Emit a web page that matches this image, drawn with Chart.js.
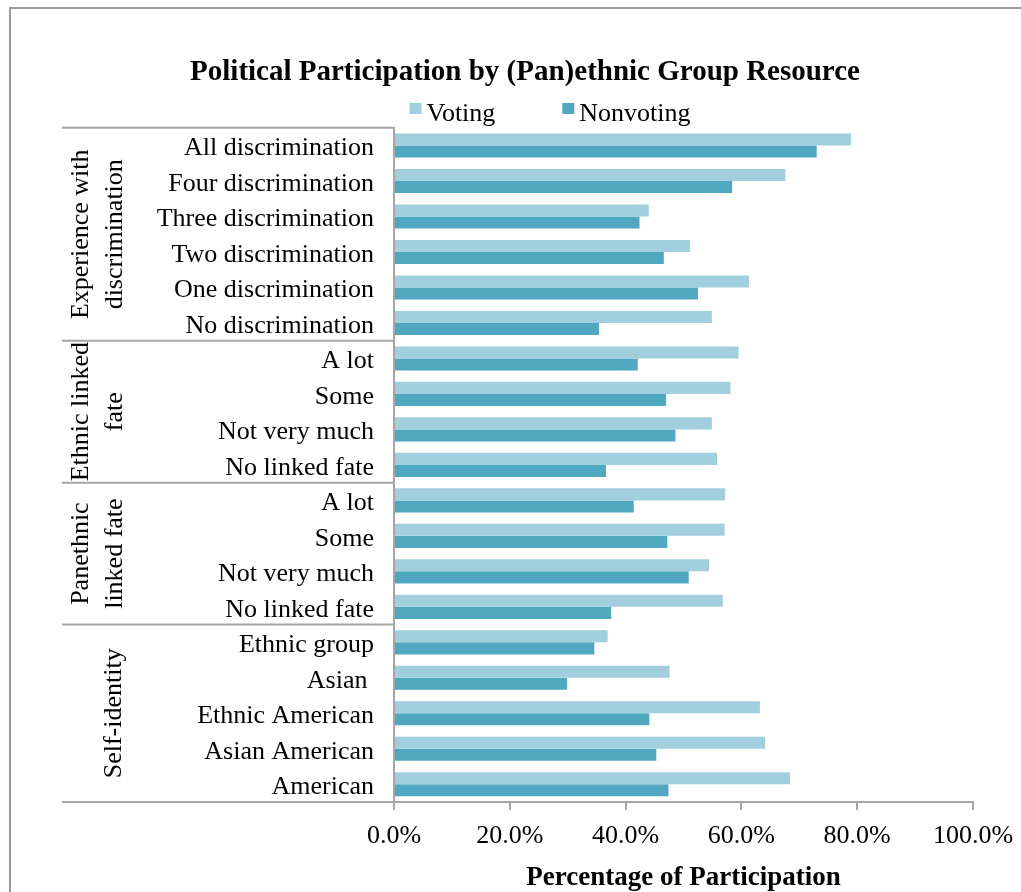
<!DOCTYPE html>
<html>
<head>
<meta charset="utf-8">
<title>Political Participation by (Pan)ethnic Group Resource</title>
<script src="https://cdn.jsdelivr.net/npm/chart.js@4.4.1/dist/chart.umd.min.js"></script>
<style>
  html, body { margin: 0; padding: 0; background: #ffffff; }
  #wrap { width: 1021px; height: 892px; position: relative; }
  canvas { display: block; }
</style>
</head>
<body>
<div id="wrap"><canvas id="chart" width="1021" height="892"></canvas></div>
<script>
// Row labels, top to bottom
const categories = [
  "All discrimination", "Four discrimination", "Three discrimination",
  "Two discrimination", "One discrimination", "No discrimination",
  "A lot", "Some", "Not very much", "No linked fate",
  "A lot", "Some", "Not very much", "No linked fate",
  "Ethnic group", "Asian ", "Ethnic American", "Asian American", "American"
];

// Percent participating, per row
const voting = [
  78.9, 67.6, 44.0, 51.1, 61.3, 54.9,
  59.5, 58.1, 54.9, 55.8,
  57.2, 57.1, 54.4, 56.8,
  36.9, 47.6, 63.2, 64.1, 68.4
];
const nonvoting = [
  73.0, 58.4, 42.4, 46.6, 52.5, 35.4,
  42.1, 47.0, 48.6, 36.6,
  41.4, 47.2, 50.9, 37.5,
  34.6, 29.9, 44.1, 45.3, 47.4
];

// Row groups: label lines and how many rows each covers
const groupLabels = [
  ["Experience with", "discrimination"],
  ["Ethnic linked", "fate"],
  ["Panethnic", "linked fate"],
  ["Self-identity"]
];
const groupSizes = [6, 4, 4, 5];

// Value axis ticks
const xTickValues = [0, 20, 40, 60, 80, 100];

const SERIF = '"Liberation Serif", "Times New Roman", Times, serif';
const GRID = '#a6a6a6';

// Outer frame of the chart object
const framePlugin = {
  id: 'frame',
  beforeDraw(chart) {
    const ctx = chart.ctx;
    ctx.save();
    ctx.fillStyle = '#ffffff';
    ctx.fillRect(0, 0, chart.width, chart.height);
    ctx.strokeStyle = '#9a9a9a';
    ctx.lineWidth = 2;
    ctx.beginPath();
    ctx.moveTo(10, chart.height + 5);
    ctx.lineTo(10, 8);
    ctx.lineTo(chart.width + 5, 8);
    ctx.stroke();
    ctx.restore();
  }
};

// Group labels and separator lines left of the category axis
const groupPlugin = {
  id: 'groups',
  afterDraw(chart, args, opts) {
    const ctx = chart.ctx;
    const y = chart.scales.y;
    const area = chart.chartArea;
    const half = (y.getPixelForValue(1) - y.getPixelForValue(0)) / 2;
    ctx.save();
    ctx.strokeStyle = GRID;
    ctx.lineWidth = 2;
    let start = 0;
    const bounds = [y.getPixelForValue(0) - half];
    groupSizes.forEach(n => {
      start += n;
      bounds.push(y.getPixelForValue(start - 1) + half);
    });
    bounds.forEach(b => {
      ctx.beginPath();
      ctx.moveTo(opts.lineLeft, b);
      ctx.lineTo(area.left, b);
      ctx.stroke();
    });
    ctx.fillStyle = '#000000';
    ctx.font = opts.font;
    ctx.textAlign = 'center';
    ctx.textBaseline = 'middle';
    groupLabels.forEach((lines, g) => {
      const cy = (bounds[g] + bounds[g + 1]) / 2;
      const xs = lines.length === 2 ? opts.twoLineX : opts.oneLineX;
      lines.forEach((txt, i) => {
        ctx.save();
        ctx.translate(xs[i], cy);
        ctx.rotate(-Math.PI / 2);
        ctx.fillText(txt, 0, 0);
        ctx.restore();
      });
    });
    ctx.restore();
  }
};

// Legend row under the title
const legendPlugin = {
  id: 'legendRow',
  afterDraw(chart, args, opts) {
    const ctx = chart.ctx;
    ctx.save();
    ctx.font = opts.font;
    ctx.textBaseline = 'middle';
    ctx.textAlign = 'left';
    const items = chart.data.datasets.map(d => ({
      text: d.label, color: d.backgroundColor, w: ctx.measureText(d.label).width
    }));
    const itemW = it => opts.box + opts.textGap + it.w;
    let total = items.reduce((s, it) => s + itemW(it), 0) + opts.itemGap * (items.length - 1);
    let x = opts.centerX - total / 2;
    items.forEach(it => {
      ctx.fillStyle = it.color;
      ctx.fillRect(x, opts.boxTop, opts.box, opts.boxH);
      ctx.fillStyle = '#000000';
      ctx.fillText(it.text, x + opts.box + opts.textGap, opts.y);
      x += itemW(it) + opts.itemGap;
    });
    ctx.restore();
  }
};

new Chart(document.getElementById('chart'), {
  type: 'bar',
  data: {
    labels: categories,
    datasets: [
      { label: 'Voting', data: voting, backgroundColor: '#a2cfdd', borderWidth: 0 },
      { label: 'Nonvoting', data: nonvoting, backgroundColor: '#4fa8c0', borderWidth: 0 }
    ]
  },
  plugins: [framePlugin, groupPlugin, legendPlugin],
  options: {
    indexAxis: 'y',
    responsive: false,
    animation: false,
    layout: { padding: { left: 77, right: 48, top: 0, bottom: 0 } },
    datasets: { bar: { categoryPercentage: 0.68, barPercentage: 1.0 } },
    scales: {
      x: {
        min: 0, max: 100,
        afterBuildTicks(scale) { scale.ticks = xTickValues.map(v => ({ value: v })); },
        afterFit(scale) {
          scale.height = 90;
          scale.paddingLeft = 0;
          scale.paddingRight = 0;
        },
        grid: { display: true, drawOnChartArea: false, drawTicks: true, tickLength: 8, color: GRID, lineWidth: 2 },
        border: { display: true, color: GRID, width: 2 },
        ticks: {
          font: { family: SERIF, size: 26 }, color: '#000000', padding: 11,
          maxRotation: 0, autoSkip: false,
          callback: v => Number(v).toFixed(1) + '%'
        },
        title: {
          display: true, text: 'Percentage of Participation',
          font: { family: SERIF, size: 27, weight: 'bold' }, color: '#000000',
          padding: { top: 0, bottom: -2 }
        }
      },
      y: {
        afterFit(scale) { scale.width = 317; },
        grid: { display: false, drawTicks: false },
        border: { display: true, color: GRID, width: 2 },
        ticks: { font: { family: SERIF, size: 26 }, color: '#000000', padding: 20, labelOffset: 3, autoSkip: false }
      }
    },
    plugins: {
      legend: { display: false },
      tooltip: { enabled: false },
      title: {
        display: true,
        text: 'Political Participation by (Pan)ethnic Group Resource',
        font: { family: SERIF, size: 29, weight: 'bold' }, color: '#000000',
        padding: { top: 55, bottom: 38 }
      },
      groups: {
        font: '26px ' + SERIF,
        lineLeft: 62,
        twoLineX: [81, 115],
        oneLineX: [114]
      },
      legendRow: {
        font: '26px ' + SERIF,
        y: 114, boxTop: 103, centerX: 550, box: 12, boxH: 11, textGap: 5, itemGap: 67
      }
    }
  }
});
</script>
</body>
</html>
